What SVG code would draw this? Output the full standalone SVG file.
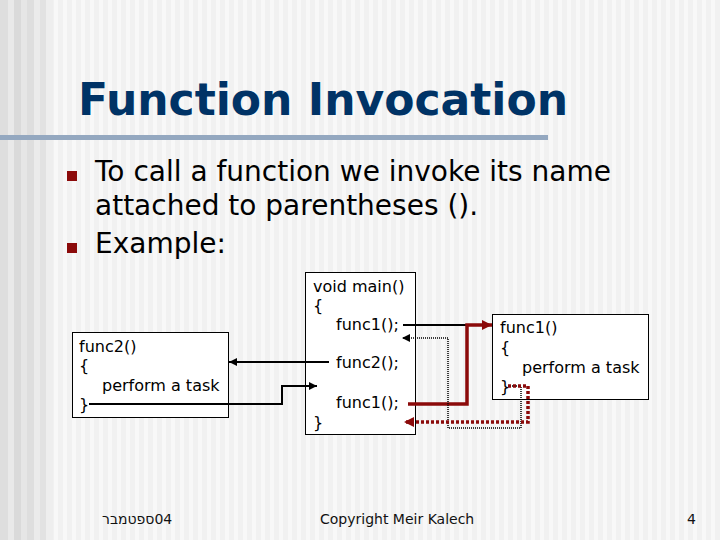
<svg xmlns="http://www.w3.org/2000/svg" width="720" height="540" viewBox="0 0 720 540">
  <defs>
    <pattern id="stripes" x="0" y="0" width="9" height="10" patternUnits="userSpaceOnUse">
      <rect width="9" height="10" fill="#f1f1f1"/>
      <rect x="0" width="4" height="10" fill="#f8f8f8"/>
    </pattern>
    <marker id="ab" markerUnits="userSpaceOnUse" markerWidth="9" markerHeight="9" refX="8" refY="4.5" orient="auto">
      <path d="M0,0.5 L8,4.5 L0,8.5 z" fill="#000"/>
    </marker>
    <marker id="ar" markerUnits="userSpaceOnUse" markerWidth="11" markerHeight="11" refX="10" refY="5.5" orient="auto">
      <path d="M0,0.5 L10,5.5 L0,10.5 z" fill="#8b0a0a"/>
    </marker>
  </defs>
  <style>
    .code { font-family: "DejaVu Sans", Verdana, sans-serif; font-size: 16px; fill: #000; }
    .body { font-family: "DejaVu Sans", Verdana, sans-serif; font-size: 28px; fill: #000; }
    .foot { font-family: "DejaVu Sans", Verdana, sans-serif; font-size: 14px; fill: #111; }
    .box { fill: #fff; stroke: #000; stroke-width: 1; }
    .bul { fill: #8b0a0a; }
    .blk { fill: none; stroke: #000; stroke-width: 2; }
    .red { fill: none; stroke: #8b0a0a; stroke-width: 3.5; }
  </style>

  <!-- background -->
  <rect width="720" height="540" fill="url(#stripes)"/>
  <g id="left-band">
    <rect x="0" y="0" width="8" height="540" fill="#dedede"/>
    <rect x="8" y="0" width="6" height="540" fill="#e9e9e9"/>
    <rect x="14" y="0" width="7" height="540" fill="#dadada"/>
    <rect x="21" y="0" width="6" height="540" fill="#e6e6e6"/>
    <rect x="27" y="0" width="7" height="540" fill="#dedede"/>
    <rect x="34" y="0" width="6" height="540" fill="#ebebeb"/>
    <rect x="40" y="0" width="6" height="540" fill="#e2e2e2"/>
    <rect x="46" y="0" width="7" height="540" fill="#eeeeee"/>
  </g>

  <!-- title -->
  <g id="title">
    <text x="78" y="115" font-family="'DejaVu Sans', Verdana, sans-serif" font-weight="bold" font-size="44" fill="#003366" textLength="490" lengthAdjust="spacingAndGlyphs">Function Invocation</text>
    <rect x="0" y="135" width="548" height="5" fill="#94a8c0"/>
  </g>

  <!-- bullets -->
  <g id="bullets">
    <rect class="bul" x="67" y="171" width="10" height="10"/>
    <text class="body" x="95" y="181">To call a function we invoke its name</text>
    <text class="body" x="95" y="215">attached to parentheses ().</text>
    <rect class="bul" x="67" y="243" width="10" height="10"/>
    <text class="body" x="95" y="253">Example:</text>
  </g>

  <!-- main box -->
  <g id="main">
    <rect class="box" x="305.5" y="272.5" width="110" height="162"/>
    <text class="code" x="313" y="292">void main()</text>
    <text class="code" x="313" y="311">{</text>
    <text class="code" x="336" y="330">func1();</text>
    <text class="code" x="336" y="368">func2();</text>
    <text class="code" x="336" y="408">func1();</text>
    <text class="code" x="313" y="428">}</text>
  </g>

  <!-- func2 box -->
  <g id="func2">
    <rect class="box" x="72.5" y="332.5" width="156" height="85"/>
    <text class="code" x="79" y="352">func2()</text>
    <text class="code" x="79" y="371">{</text>
    <text class="code" x="102" y="391">perform a task</text>
    <text class="code" x="79" y="410">}</text>
  </g>

  <!-- func1 box -->
  <g id="func1">
    <rect class="box" x="492.5" y="314.5" width="156" height="85"/>
    <text class="code" x="500" y="333">func1()</text>
    <text class="code" x="500" y="353">{</text>
    <text class="code" x="522" y="373">perform a task</text>
    <text class="code" x="500" y="392">}</text>
  </g>

  <!-- connectors -->
  <g id="connectors">
    <line class="blk" x1="329" y1="362" x2="229" y2="362" marker-end="url(#ab)"/>
    <polyline class="blk" points="89,404 282,404 282,386 317,386" marker-end="url(#ab)"/>
    <line class="blk" x1="403" y1="325" x2="470" y2="325"/>
    <polyline class="red" points="408,404 467,404 467,325 492,325" marker-end="url(#ar)"/>
    <polyline fill="none" stroke="#000" stroke-width="1.5" stroke-dasharray="1 1" points="508,386 521,386 521,428 448,428 448,338 402,338" marker-end="url(#ab)"/>
    <polyline class="red" stroke-dasharray="3 2" points="508,386 528,386 528,422 404,422" marker-end="url(#ar)"/>
  </g>

  <!-- footer -->
  <g id="footer">
    <text class="foot" x="102" y="524">ספטמבר&#x200E;04</text>
    <text class="foot" x="320" y="524">Copyright Meir Kalech</text>
    <text class="foot" x="687" y="524">4</text>
  </g>
</svg>
